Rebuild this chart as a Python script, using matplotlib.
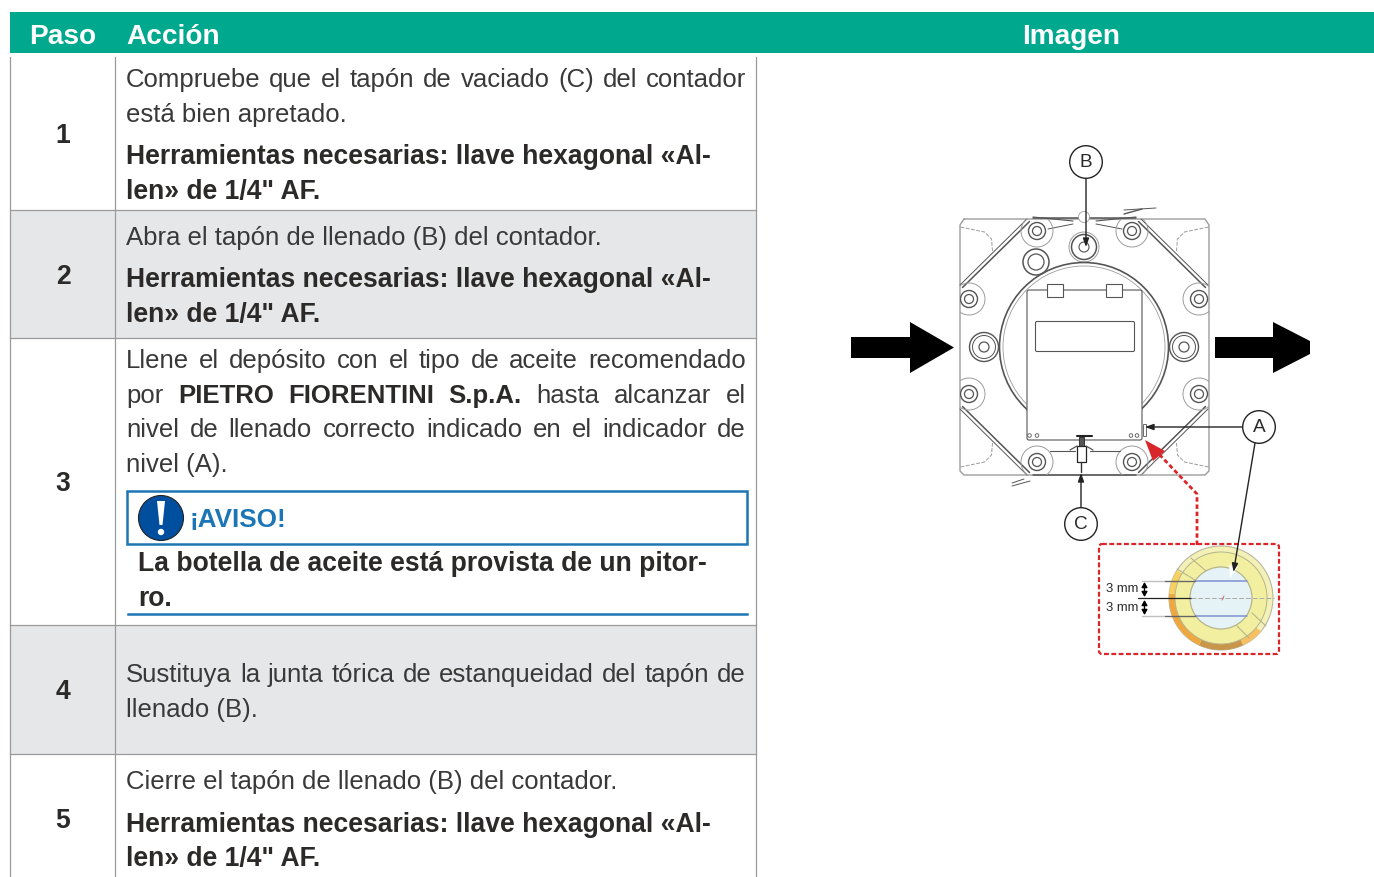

# operating table with meter drawing: steps, actions and the image column
import matplotlib
matplotlib.use('Agg')
import matplotlib.pyplot as plt
import numpy as np
from matplotlib.patches import Circle, FancyBboxPatch, Polygon, Rectangle, Wedge

plt.rcParams['font.family'] = ['Liberation Sans', 'DejaVu Sans']

# table content
headers = ['Paso', 'Acción', 'Imagen']
steps = ['1', '2', '3', '4', '5']
tool_line_1 = 'Herramientas necesarias: llave hexagonal «Al-'
tool_line_2 = 'len» de 1/4" AF.'
row1_lines = ['Compruebe que el tapón de vaciado (C) del contador', 'está bien apretado.']
row2_lines = ['Abra el tapón de llenado (B) del contador.']
row3_lines = ['Llene el depósito con el tipo de aceite recomendado',
              'por *PIETRO *FIORENTINI *S.p.A. hasta alcanzar el',
              'nivel de llenado correcto indicado en el indicador de',
              'nivel (A).']
notice_title = '¡AVISO!'
notice_lines = ['La botella de aceite está provista de un pitor-', 'ro.']
row4_lines = ['Sustituya la junta tórica de estanqueidad del tapón de', 'llenado (B).']
row5_lines = ['Cierre el tapón de llenado (B) del contador.']
gauge_label = '3 mm'

GREEN = '#00A88E'
GREY = '#E6E7E8'
RULE = '#9A9A9A'
BLUE = '#1C75B5'
INK = '#2B2A29'
BODY_INK = '#3A3939'
BODY_PX = 25.7
BOLD_PX = 26.5

W, H = 1374, 877
fig = plt.figure(figsize=(W / 100, H / 100), dpi=100)
ax = fig.add_axes([0, 0, 1, 1])
ax.set_xlim(0, W)
ax.set_ylim(H, 0)
ax.axis('off')
renderer = fig.canvas.get_renderer()


def pt(px):
    return px * 72 / 100


def word_width(word, bold, px):
    t = ax.text(0, 0, word, fontsize=pt(px), fontweight='bold' if bold else 'normal')
    w = t.get_window_extent(renderer).width
    t.remove()
    return w


def put_text(line, x, y, bold=False, px=BODY_PX):
    ax.text(x, y, line, fontsize=pt(px), fontweight='bold' if bold else 'normal',
            color=INK if bold else BODY_INK, va='baseline', ha='left')


def put_justified(line, x, y, right, px=BODY_PX):
    """Spread the words of one line up to right, a * in front of a word makes it bold"""
    words = [(w.lstrip('*'), w.startswith('*')) for w in line.split(' ')]
    widths = [word_width(w, b, px) for w, b in words]
    gap = (right - x - sum(widths)) / (len(words) - 1)
    for (w, b), wd in zip(words, widths):
        put_text(w, x, y, bold=b, px=px)
        x += wd + gap


# header band and table grid
ax.add_patch(Rectangle((10, 12), W - 10, 41, fc=GREEN, ec='none'))
for label, x, ha in zip(headers, [29.5, 126, 1071], ['left', 'left', 'center']):
    ax.text(x, 43.5, label, color='white', fontsize=pt(28), fontweight='bold', ha=ha, va='baseline')

ax.add_patch(Rectangle((10, 210), 746, 128, fc=GREY, ec='none'))
ax.add_patch(Rectangle((10, 626), 746, 128, fc=GREY, ec='none'))
for y in [209.5, 337.5, 625, 753.5]:
    ax.plot([10, 756], [y, y], color=RULE, lw=0.9)
for x in [10, 115, 756]:
    ax.plot([x, x], [57, H], color=RULE, lw=0.9)

for s, y in zip(steps, [143, 284, 491, 699, 828]):
    ax.text(63, y, s, ha='center', va='baseline', fontsize=pt(BOLD_PX), fontweight='bold', color=INK)

# action column
put_justified(row1_lines[0], 126, 87, 746)
put_text(row1_lines[1], 126, 122)
put_text(tool_line_1, 126, 164, bold=True, px=BOLD_PX)
put_text(tool_line_2, 126, 199, bold=True, px=BOLD_PX)

put_text(row2_lines[0], 126, 245)
put_text(tool_line_1, 126, 287, bold=True, px=BOLD_PX)
put_text(tool_line_2, 126, 322, bold=True, px=BOLD_PX)

put_justified(row3_lines[0], 126, 368, 746)
put_justified(row3_lines[1], 126, 403, 746)
put_justified(row3_lines[2], 126, 437, 746)
put_text(row3_lines[3], 126, 472)

# notice block
ax.add_patch(Rectangle((127, 491), 619.5, 53, fc='white', ec=BLUE, lw=1.8))
ax.add_patch(Circle((161, 518), 22.5, fc='#004F9F', ec='#222222', lw=0.8))
ax.add_patch(Polygon([(157, 501), (165, 501), (162.5, 525), (159.5, 525)], fc='white', ec='none'))
ax.add_patch(Circle((161, 532), 3.2, fc='white', ec='none'))
ax.text(190, 527.5, notice_title, color=BLUE, fontsize=pt(26), fontweight='bold', va='baseline')
put_text(notice_lines[0], 138, 571, bold=True, px=BOLD_PX)
put_text(notice_lines[1], 138, 606, bold=True, px=BOLD_PX)
ax.plot([128, 746.5], [613.5, 613.5], color=BLUE, lw=1.8)

put_justified(row4_lines[0], 126, 682, 746)
put_text(row4_lines[1], 126, 717)

put_text(row5_lines[0], 126, 789)
put_text(tool_line_1, 126, 832, bold=True, px=BOLD_PX)
put_text(tool_line_2, 126, 866, bold=True, px=BOLD_PX)

# meter drawing
LINE = '#555555'
FAINT = '#9C9C9C'
casing = Rectangle((960, 219), 249, 256, transform=ax.transData)


def seg(xs, ys, color=LINE, lw=0.8, ls='-', z=3):
    ax.plot(xs, ys, color=color, lw=lw, ls=ls, zorder=z, solid_capstyle='round')


def ring(x, y, radii, color=LINE, lw=0.8, fc='none', z=3, clip=False):
    for r in radii:
        c = Circle((x, y), r, fc=fc, ec=color, lw=lw, zorder=z)
        ax.add_patch(c)
        if clip:
            c.set_clip_path(casing)


# outer casing with the corner recesses
casing_x = [964, 1205, 1209, 1209, 1205, 964, 960, 960, 964]
casing_y = [219, 219, 225, 471, 475, 475, 471, 225, 219]
seg(casing_x, casing_y, color=FAINT, lw=1.0)
for sx, sy in [(1, 1), (-1, 1), (1, -1), (-1, -1)]:
    seg(1084.5 + sx * np.array([124, 100, 93, 92]), 347 + sy * np.array([120, 115, 108, 96]),
        color=FAINT, lw=0.7, ls=(0, (4, 1.5)))

# octagon flange chamfers, double lines
for dx in [0, 2.5]:
    seg([1027 + dx, 960 + dx], [219 + dx, 285 + dx], lw=1.1 if dx else 0.7)
    seg([1141 - dx, 1208 - dx], [219 + dx, 285 + dx], lw=1.1 if dx else 0.7)
    seg([960 + dx, 1027 + dx], [409 - dx, 475 - dx], lw=1.1 if dx else 0.7)
    seg([1208 - dx, 1141 - dx], [409 - dx, 475 - dx], lw=1.1 if dx else 0.7)
seg([1033, 1136], [218, 218], lw=1.1)
seg([1033, 1136], [475, 475], lw=1.1)
seg([1033, 1073], [217, 221], lw=0.8)
seg([1096, 1136], [221, 217], lw=0.8)
seg([1048, 1073], [229, 224], lw=0.7)
seg([1096, 1122], [224, 229], lw=0.7)

# bolts
for bx, by in [(1037, 231), (1132, 231), (1037, 462), (1132, 462),
               (969, 299), (1199, 299), (969, 394), (1199, 394)]:
    ring(bx, by, [16], color=FAINT, lw=0.7, clip=True)
    ring(bx, by, [8.5], lw=1.0, clip=True)
    ring(bx, by, [4.5], lw=0.9)
for bx in [984, 1184]:
    ring(bx, 347, [14.5], lw=1.0)
    ring(bx, 347, [11.5], lw=0.7)
    ring(bx, 347, [5], lw=0.9)

# fill and drain plugs
ring(1084, 247, [15], color=FAINT, lw=0.7)
ring(1084, 247, [12.5], lw=1.1)
ring(1084, 247, [5], lw=0.8)
ring(1036, 262, [13], lw=1.1)
ring(1036, 262, [8], lw=0.9)
ax.add_patch(Circle((1084, 217), 5.5, fc='white', ec=FAINT, lw=0.6, zorder=3))

# meter head circle with the plate over it
ring(1084, 347, [84.5], lw=1.2)
ring(1084, 347, [81], color=FAINT, lw=0.6)
ax.add_patch(FancyBboxPatch((1029, 292), 111, 146, boxstyle='round,pad=2', fc='white', ec=LINE, lw=0.8, zorder=4))
ax.add_patch(FancyBboxPatch((1037, 323), 96, 27, boxstyle='round,pad=1.5', fc='white', ec=LINE, lw=0.8, zorder=5))
for tx in [1047, 1106]:
    ax.add_patch(Rectangle((tx, 284), 16, 13, fc='white', ec=LINE, lw=0.8, zorder=5))
for ox in [1029.5, 1037, 1131, 1137]:
    ring(ox, 435.5, [1.8], lw=0.6, z=6)

# drain valve under the plate and level window
ax.add_patch(Rectangle((1077, 446), 9, 16, fc='white', ec='#222222', lw=0.9, zorder=6))
ax.add_patch(Rectangle((1079, 437), 5, 9, fc='#555555', ec='#222222', lw=0.6, zorder=6))
seg([1077, 1092], [436, 436], color='#222222', lw=1.5, z=6)
seg([1050, 1075], [451, 451], lw=0.8)
seg([1090, 1120], [451, 451], lw=0.8)
seg([1070, 1077, 1077], [450, 446, 446], lw=0.9, z=6)
seg([1093, 1086], [450, 446], lw=0.9, z=6)
seg([1081, 1081], [462, 472], color='#333333', lw=1.0, z=6)
seg([1012, 1030], [486, 481], lw=0.7)
seg([1012, 1024], [483, 479], lw=0.7)
seg([1124, 1156], [210, 208], lw=0.7)
seg([1124, 1142], [214, 209], lw=1.0)
ax.add_patch(Rectangle((1142.5, 424), 3.5, 12, fc='white', ec=LINE, lw=0.6, zorder=6))

# flow arrows
ax.add_patch(Polygon([(851, 337), (910, 337), (910, 322), (954, 347.5), (910, 373), (910, 358), (851, 358)],
                     fc='black', ec='none', zorder=5))
ax.add_patch(Polygon([(1215, 337), (1273, 337), (1273, 322), (1310, 341), (1310, 354), (1273, 373), (1273, 358), (1215, 358)],
                     fc='black', ec='none', zorder=5))


# callouts with leader lines
def callout(label, x, y):
    ax.add_patch(Circle((x, y), 16.3, fc='white', ec='#222222', lw=1.0, zorder=8))
    ax.text(x, y + 0.3, label, ha='center', va='center', fontsize=pt(19), color=INK, zorder=9)


def leader(x0, y0, x1, y1, head='#222222'):
    ax.annotate('', xy=(x1, y1), xytext=(x0, y0), zorder=7,
                arrowprops=dict(arrowstyle='-|>,head_width=0.18,head_length=0.5', lw=1.0, color=head,
                                shrinkA=0, shrinkB=0))


leader(1086, 178, 1086, 247)
leader(1243, 427, 1145, 427)
leader(1081, 508, 1081, 473)
callout('A', 1259, 427)
callout('B', 1086, 162)
callout('C', 1081, 524)

# red inset frame and pointer
RED = '#D9262A'
ax.add_patch(FancyBboxPatch((1102, 547), 174, 104, boxstyle='round,pad=3', fc='none', ec=RED, lw=1.6,
                            ls=(0, (2.2, 1.1)), zorder=6))
seg([1197, 1197, 1157], [545, 494, 452], color=RED, lw=2.0, ls=(0, (1.6, 1.0)), z=6)
ax.add_patch(Polygon([(1145, 440), (1165, 451), (1153, 461)], fc=RED, ec='none', zorder=7))

# gauge glass, the y axis points down so wedge angles run clockwise on screen
gx, gy = 1221, 598
ax.add_patch(Circle((gx, gy), 52, fc='#F3F0B8', ec='#B9B9A0', lw=0.8, zorder=3))
for a0, a1, colour in [(40, 65, '#F8C060'), (65, 115, '#C8954A'), (115, 185, '#EFA840'), (185, 212, '#F8D060')]:
    ax.add_patch(Wedge((gx, gy), 52, a0, a1, width=6.5, fc=colour, ec='none', zorder=3))
ax.add_patch(Circle((gx, gy), 46, fc='#F3EFA0', ec='#B5B58C', lw=0.7, zorder=4))
ax.add_patch(Circle((gx, gy), 31, fc='#E6F3F6', ec='#B5B58C', lw=0.9, zorder=5))
seg([1191, 1206], [558, 571], color='#B5B58C', lw=0.8, z=5)
seg([1177, 1195], [569, 580], color='#B5B58C', lw=0.8, z=5)
seg([1237, 1249], [626, 638], color='#B5B58C', lw=0.8, z=5)
seg([1252, 1266], [613, 626], color='#B5B58C', lw=0.8, z=5)
for y in [581, 616]:
    seg([1195, 1247], [y, y], color='#8090D0', lw=1.1, z=6)
    seg([1142, 1165], [y, y], color='#C0C0C0', lw=1.0, z=6)
    seg([1165, 1195], [y, y], color='#666666', lw=1.0, z=6)
seg([1138, 1191], [598, 598], color='#222222', lw=0.9, z=6)
seg([1191, 1274], [598, 598], color='#AAAAAA', lw=0.7, ls=(0, (5, 2)), z=6)
seg([1222, 1224], [600, 596], color='#D06070', lw=0.7, z=6)
for y0, y1 in [(582, 597), (600, 615)]:
    ax.annotate('', xy=(1144.5, y0), xytext=(1144.5, y1), zorder=7,
                arrowprops=dict(arrowstyle='<|-|>,head_width=0.17,head_length=0.3', lw=1.0, color='black',
                                shrinkA=0, shrinkB=0))
ax.text(1105.5, 589, gauge_label, fontsize=pt(13), color=INK, va='center', zorder=7)
ax.text(1105.5, 608, gauge_label, fontsize=pt(13), color=INK, va='center', zorder=7)
ax.add_patch(Polygon([(1230, 578), (1229, 565), (1238, 567)], fc='white', ec='none', zorder=7))
leader(1255, 443, 1233.5, 572)

fig.savefig('out.png', dpi=100)
plt.close(fig)
